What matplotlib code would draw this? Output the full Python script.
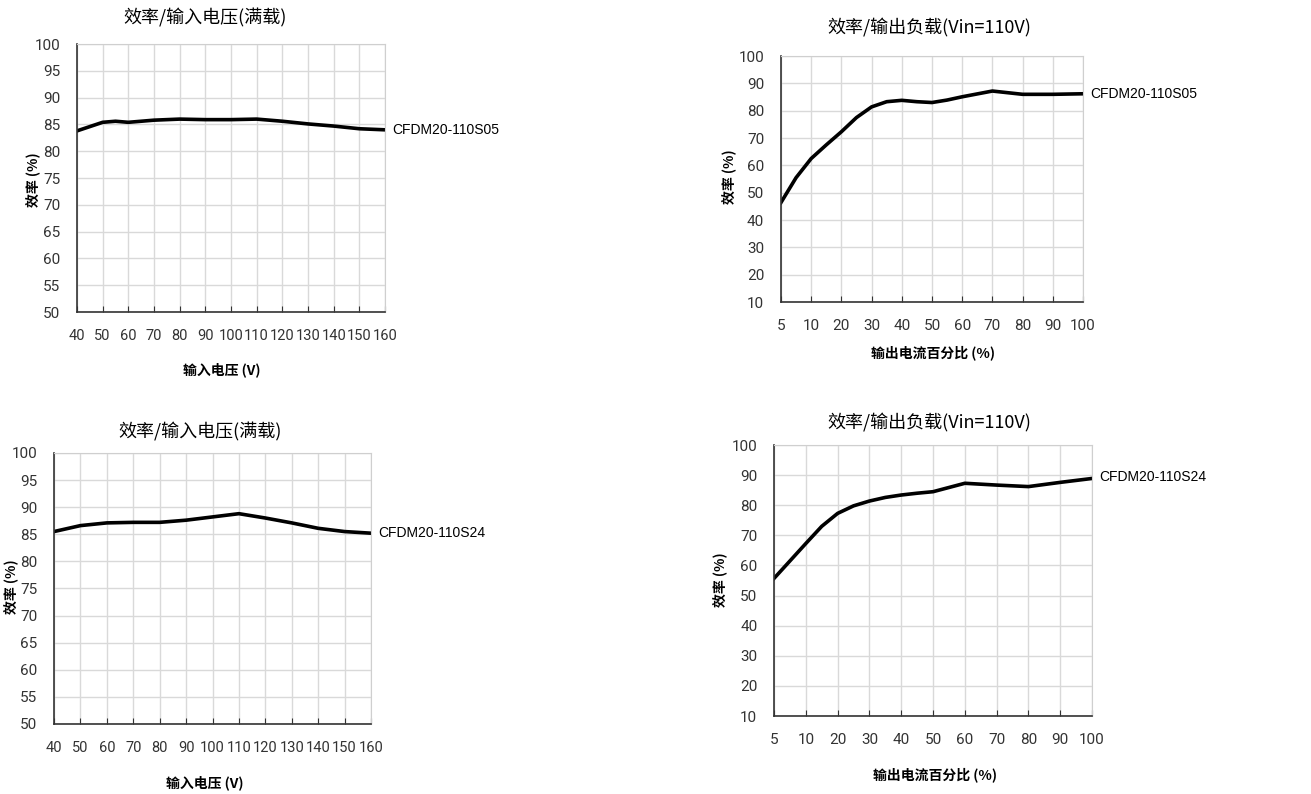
import matplotlib
matplotlib.use('Agg')
import matplotlib.pyplot as plt

plt.rcParams['font.family'] = ['Noto Sans CJK SC', 'DejaVu Sans']

# input voltage sweep (full load)
vin = [40, 50, 55, 60, 70, 80, 90, 100, 110, 120, 130, 140, 150, 160]
eff_vin_s05 = [83.8, 85.4, 85.6, 85.4, 85.8, 86.0, 85.9, 85.9, 86.0, 85.6, 85.1, 84.7, 84.2, 84.0]
vin_s24 = [40, 50, 60, 70, 80, 90, 100, 110, 120, 130, 140, 150, 160]
eff_vin_s24 = [85.5, 86.6, 87.1, 87.2, 87.2, 87.6, 88.2, 88.8, 88.0, 87.1, 86.1, 85.5, 85.2]

# load sweep, x axis is categorical 5,10,20..100 (equal spacing)
load_ticks = ['5', '10', '20', '30', '40', '50', '60', '70', '80', '90', '100']
load_pos_s05 = [0, 0.5, 1, 1.5, 2, 2.5, 3, 3.5, 4, 4.5, 5, 5.5, 6, 7, 8, 9, 10]
eff_load_s05 = [46.4, 55.5, 62.5, 67.5, 72.3, 77.5, 81.4, 83.3, 83.8, 83.3, 83.0, 83.9, 85.1, 87.2, 86.0, 86.0, 86.2]
load_pos_s24 = [0, 0.5, 1, 1.5, 2, 2.5, 3, 3.5, 4, 4.5, 5, 5.5, 6, 7, 8, 9, 10]
eff_load_s24 = [55.7, 61.5, 67.3, 73.0, 77.3, 79.8, 81.4, 82.6, 83.4, 84.0, 84.5, 85.9, 87.3, 86.7, 86.2, 87.6, 88.9]

fig = plt.figure(figsize=(13.11, 7.94), dpi=100)
tick_font = ['Roboto', 'DejaVu Sans']


def style(ax, xsize):
    ax.grid(True, color='#d9d9d9', lw=1.0)
    ax.set_axisbelow(True)
    for s in ['top', 'right']:
        ax.spines[s].set_color('#cfcfcf')
    for s in ['left', 'bottom']:
        ax.spines[s].set_color('#333333')
        ax.spines[s].set_linewidth(1.2)
    ax.tick_params(axis='both', labelcolor='#333333', color='#333333',
                   labelfontfamily=tick_font)
    ax.tick_params(axis='x', length=4, direction='in', pad=12, labelsize=xsize)
    ax.tick_params(axis='y', length=0, pad=12, labelsize=11)


def curve_label(ax, x, y, txt):
    ax.annotate(txt, (x, y), xytext=(5, 0), textcoords='offset points',
                va='center', ha='left', fontsize=10, family=['Liberation Sans'],
                annotation_clip=False)


# top left
ax1 = fig.add_axes([0.0587, 0.607, 0.235, 0.3375])
ax1.plot(vin, eff_vin_s05, color='black', lw=2.6)
ax1.set_xlim(40, 160)
ax1.set_ylim(50, 100)
ax1.set_xticks(range(40, 161, 10))
ax1.set_yticks(range(50, 101, 5))
style(ax1, 10.5)
curve_label(ax1, vin[-1], eff_vin_s05[-1], 'CFDM20-110S05')

# top right
ax2 = fig.add_axes([0.5957, 0.6196, 0.2304, 0.3098])
ax2.plot(load_pos_s05, eff_load_s05, color='black', lw=2.6)
ax2.set_xlim(0, 10)
ax2.set_ylim(10, 100)
ax2.set_xticks(range(len(load_ticks)))
ax2.set_xticklabels(load_ticks)
ax2.set_yticks(range(10, 101, 10))
style(ax2, 11)
curve_label(ax2, load_pos_s05[-1], eff_load_s05[-1], 'CFDM20-110S05')

# bottom left
ax3 = fig.add_axes([0.0412, 0.0882, 0.2418, 0.3413])
ax3.plot(vin_s24, eff_vin_s24, color='black', lw=2.6)
ax3.set_xlim(40, 160)
ax3.set_ylim(50, 100)
ax3.set_xticks(range(40, 161, 10))
ax3.set_yticks(range(50, 101, 5))
style(ax3, 10.5)
curve_label(ax3, vin_s24[-1], eff_vin_s24[-1], 'CFDM20-110S24')

# bottom right
ax4 = fig.add_axes([0.5904, 0.0982, 0.2426, 0.3413])
ax4.plot(load_pos_s24, eff_load_s24, color='black', lw=2.6)
ax4.set_xlim(0, 10)
ax4.set_ylim(10, 100)
ax4.set_xticks(range(len(load_ticks)))
ax4.set_xticklabels(load_ticks)
ax4.set_yticks(range(10, 101, 10))
style(ax4, 11)
curve_label(ax4, load_pos_s24[-1], eff_load_s24[-1] + 0.5, 'CFDM20-110S24')

W, H = 1311, 794


def ftext(x, y, s, **kw):
    fig.text(x / W, 1 - y / H, s, ha='center', va='center', **kw)


# titles
ftext(205, 18, '效率/输入电压(满载)', fontsize=13)
ftext(929, 28, '效率/输出负载(Vin=110V)', fontsize=13)
ftext(200, 432, '效率/输入电压(满载)', fontsize=13)
ftext(929, 423, '效率/输出负载(Vin=110V)', fontsize=13)

# axis labels
ftext(222, 370, '输入电压 (V)', fontsize=10, fontweight='bold')
ftext(933, 353, '输出电流百分比 (%)', fontsize=10, fontweight='bold')
ftext(205, 783, '输入电压 (V)', fontsize=10, fontweight='bold')
ftext(935, 775, '输出电流百分比 (%)', fontsize=10, fontweight='bold')

ftext(33, 180, '效率 (%)', fontsize=10, fontweight='bold', rotation=90)
ftext(729, 177, '效率 (%)', fontsize=10, fontweight='bold', rotation=90)
ftext(11, 587, '效率 (%)', fontsize=10, fontweight='bold', rotation=90)
ftext(720, 580, '效率 (%)', fontsize=10, fontweight='bold', rotation=90)

fig.savefig('out.png', dpi=100, facecolor='white')
